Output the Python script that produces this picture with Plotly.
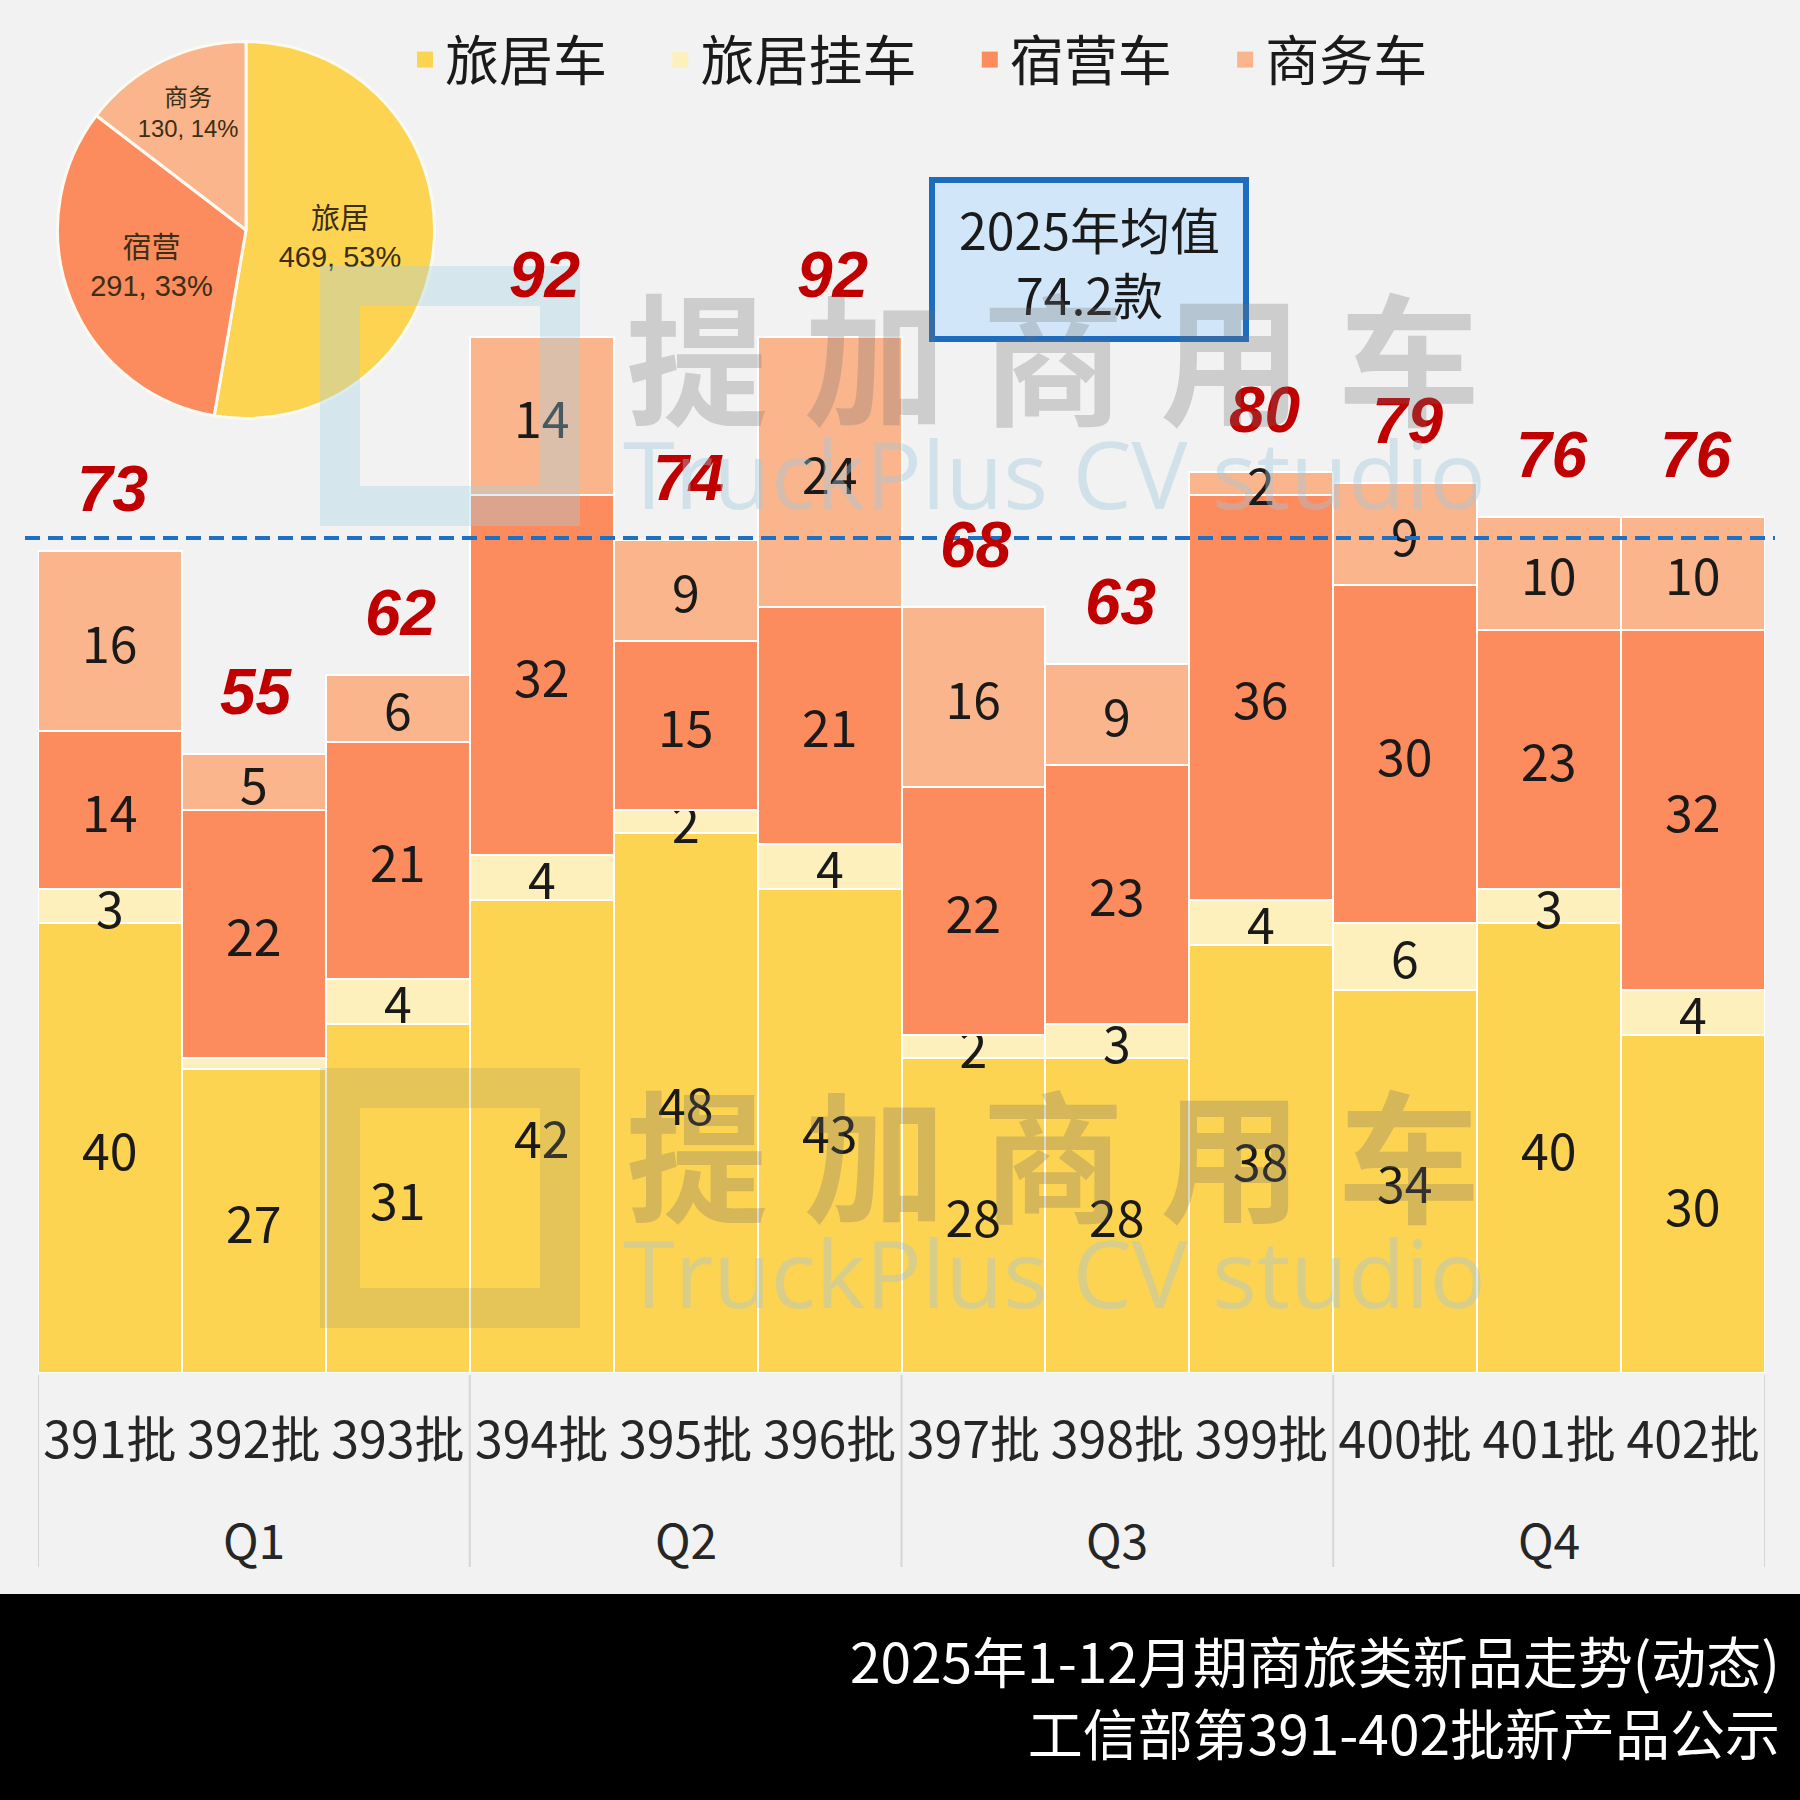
import math
import plotly.graph_objects as go

# ---------------- data ----------------
batches = ["391批", "392批", "393批", "394批", "395批", "396批",
           "397批", "398批", "399批", "400批", "401批", "402批"]
quarters = ["Q1", "Q1", "Q1", "Q2", "Q2", "Q2", "Q3", "Q3", "Q3", "Q4", "Q4", "Q4"]
rv = [40, 27, 31, 42, 48, 43, 28, 28, 38, 34, 40, 30]          # 旅居车
rv_trailer = [3, 1, 4, 4, 2, 4, 2, 3, 4, 6, 3, 4]              # 旅居挂车
camper = [14, 22, 21, 32, 15, 21, 22, 23, 36, 30, 23, 32]       # 宿营车
business = [16, 5, 6, 14, 9, 24, 16, 9, 2, 9, 10, 10]           # 商务车
series_names = ["旅居车", "旅居挂车", "宿营车", "商务车"]
series_colors = ["#FDD352", "#FDF0BC", "#FC8B5E", "#FBB58C"]
pie_labels = ["旅居", "宿营", "商务"]
pie_colors = ["#FDD352", "#FC8B5E", "#FBB58C"]

series = [rv, rv_trailer, camper, business]
n = len(batches)
xs = list(range(n))
totals = [sum(s[i] for s in series) for i in range(n)]
avg = sum(totals) / n
pie_values = [sum(rv) + sum(rv_trailer), sum(camper), sum(business)]

# percentages rounded so they add to 100 (largest remainder)
raw = [v * 100 / sum(pie_values) for v in pie_values]
pct = [math.floor(r) for r in raw]
for k in sorted(range(len(raw)), key=lambda k: raw[k] - pct[k], reverse=True)[:100 - sum(pct)]:
    pct[k] += 1

# ---------------- geometry helpers ----------------
W = H = 1800
L, R, T, B = 38, 35, 30, 427
PW, PH = W - L - R, H - T - B
PXU = 11.26
YMAX = PH / PXU


def px_x(p):
    return (p - L) / PW


def px_y(p):
    return (H - B - p) / PH


CJK = "Noto Sans CJK SC"
PIEFONT = "Liberation Sans, Noto Sans CJK SC"

fig = go.Figure()

for s, name, col in zip(series, series_names, series_colors):
    fig.add_trace(go.Bar(
        x=xs, y=s, name=name, marker=dict(color=col, line=dict(color="white", width=2.5)),
        text=[str(v) if v > 1 else "" for v in s],
        textposition="inside", insidetextanchor="middle", textangle=0,
        constraintext="none",
        insidetextfont=dict(family=CJK, size=50, color="#1a1a1a"),
        showlegend=False, hoverinfo="skip",
    ))

# legend proxies
pad = "\u00a0" * 4
for name, col in zip(series_names, series_colors):
    fig.add_trace(go.Scatter(x=[None], y=[None], mode="markers", name=name + pad,
                             marker=dict(symbol="square", size=16, color=col)))

# pie
fig.add_trace(go.Pie(
    labels=pie_labels, values=pie_values, customdata=pct, sort=False,
    direction="clockwise", rotation=0,
    marker=dict(colors=pie_colors, line=dict(color="#FAFAF2", width=3)),
    texttemplate="%{label}<br>%{value}, %{customdata}%",
    textposition="inside", insidetextorientation="horizontal",
    textfont=dict(family=PIEFONT, size=29, color="#3a2e14"),
    domain=dict(x=[px_x(57.5), px_x(434.5)], y=[px_y(418.5), px_y(41.5)]),
    showlegend=False, hoverinfo="skip",
))

shapes = []
annotations = []

# footer
shapes.append(dict(type="rect", xref="paper", yref="paper",
                   x0=px_x(0), x1=px_x(W), y0=px_y(H), y1=px_y(1594),
                   fillcolor="black", line=dict(width=0), layer="below"))
annotations.append(dict(xref="paper", yref="paper", x=px_x(1782), y=px_y(1695),
                        xanchor="right", yanchor="middle", align="right", showarrow=False,
                        text="2025年1-12月期商旅类新品走势(动态)<br>工信部第391-402批新产品公示",
                        font=dict(family=CJK, size=55, color="white")))

# quarter dividers
bounds = [-0.5] + [i + 0.5 for i in range(n - 1) if quarters[i] != quarters[i + 1]] + [n - 0.5]
for b in bounds:
    shapes.append(dict(type="line", xref="x", yref="paper", x0=b, x1=b,
                       y0=px_y(1567), y1=px_y(1375), line=dict(color="#D6D6D6", width=2)))

# quarter labels
for q in dict.fromkeys(quarters):
    idx = [i for i, qq in enumerate(quarters) if qq == q]
    annotations.append(dict(xref="x", yref="paper", x=sum(idx) / len(idx), y=px_y(1538),
                            text=q, showarrow=False, yanchor="middle",
                            font=dict(family=CJK, size=48, color="#262626")))

# totals
for i, t in enumerate(totals):
    annotations.append(dict(xref="x", yref="y", x=i, y=t, yshift=62, xshift=3, yanchor="middle",
                            text=f"<b><i>{t}</i></b>", showarrow=False,
                            font=dict(family="Liberation Sans", size=64, color="#C00000")))

# average line
shapes.append(dict(type="line", xref="paper", yref="y", x0=px_x(25), x1=px_x(1775),
                   y0=avg, y1=avg, line=dict(color="#1F6FC5", width=4, dash="15px,8px")))

# average box
shapes.append(dict(type="rect", xref="paper", yref="paper",
                   x0=px_x(932), x1=px_x(1246), y0=px_y(339), y1=px_y(180),
                   fillcolor="#D2E6F9", line=dict(color="#1C6CC0", width=6)))
annotations.append(dict(xref="paper", yref="paper", x=px_x(1089), y=px_y(260),
                        text=f"2025年均值<br>{avg:.1f}款", showarrow=False,
                        xanchor="center", yanchor="middle",
                        font=dict(family=CJK, size=50, color="#1a1a1a")))

# watermarks
wm_chars = "提加商用车"
for cy_cn, cy_en, logo_top, logo_col in [(353, 473, 266, "rgba(160,210,230,0.35)"),
                                          (1150, 1272, 1068, "rgba(150,150,110,0.22)")]:
    for k, ch in enumerate(wm_chars):
        annotations.append(dict(xref="paper", yref="paper",
                                x=px_x(697 + 178 * k), y=px_y(cy_cn),
                                text=f"<b>{ch}</b>", showarrow=False,
                                xanchor="center", yanchor="middle",
                                font=dict(family=CJK, size=142, color="rgba(110,110,110,0.28)")))
    annotations.append(dict(xref="paper", yref="paper", x=px_x(1054), y=px_y(cy_en),
                            text="TruckPlus CV studio", showarrow=False,
                            xanchor="center", yanchor="middle",
                            font=dict(family="Open Sans", size=94, color="rgba(160,200,220,0.4)")))
    shapes.append(dict(type="rect", xref="paper", yref="paper",
                       x0=px_x(340), x1=px_x(560), y0=px_y(logo_top + 240), y1=px_y(logo_top + 20),
                       line=dict(color=logo_col, width=40), fillcolor="rgba(0,0,0,0)"))

fig.update_layout(
    width=W, height=H, margin=dict(l=L, r=R, t=T, b=B),
    paper_bgcolor="#F2F2F2", plot_bgcolor="#F2F2F2",
    barmode="stack", bargap=0,
    xaxis=dict(range=[-0.5, n - 0.5], tickmode="array", tickvals=xs, ticktext=batches,
               tickfont=dict(family=CJK, size=50, color="#262626"),
               showgrid=False, zeroline=False, showline=False, ticks="",
               ticklabelstandoff=34),
    yaxis=dict(range=[0, YMAX], visible=False),
    legend=dict(orientation="h", x=px_x(405), xanchor="left", y=px_y(60), yanchor="middle",
                font=dict(family=CJK, size=54, color="#1a1a1a"), bgcolor="rgba(0,0,0,0)",
                itemwidth=30, traceorder="normal"),
    shapes=shapes, annotations=annotations,
)

fig.write_html("out.html")
